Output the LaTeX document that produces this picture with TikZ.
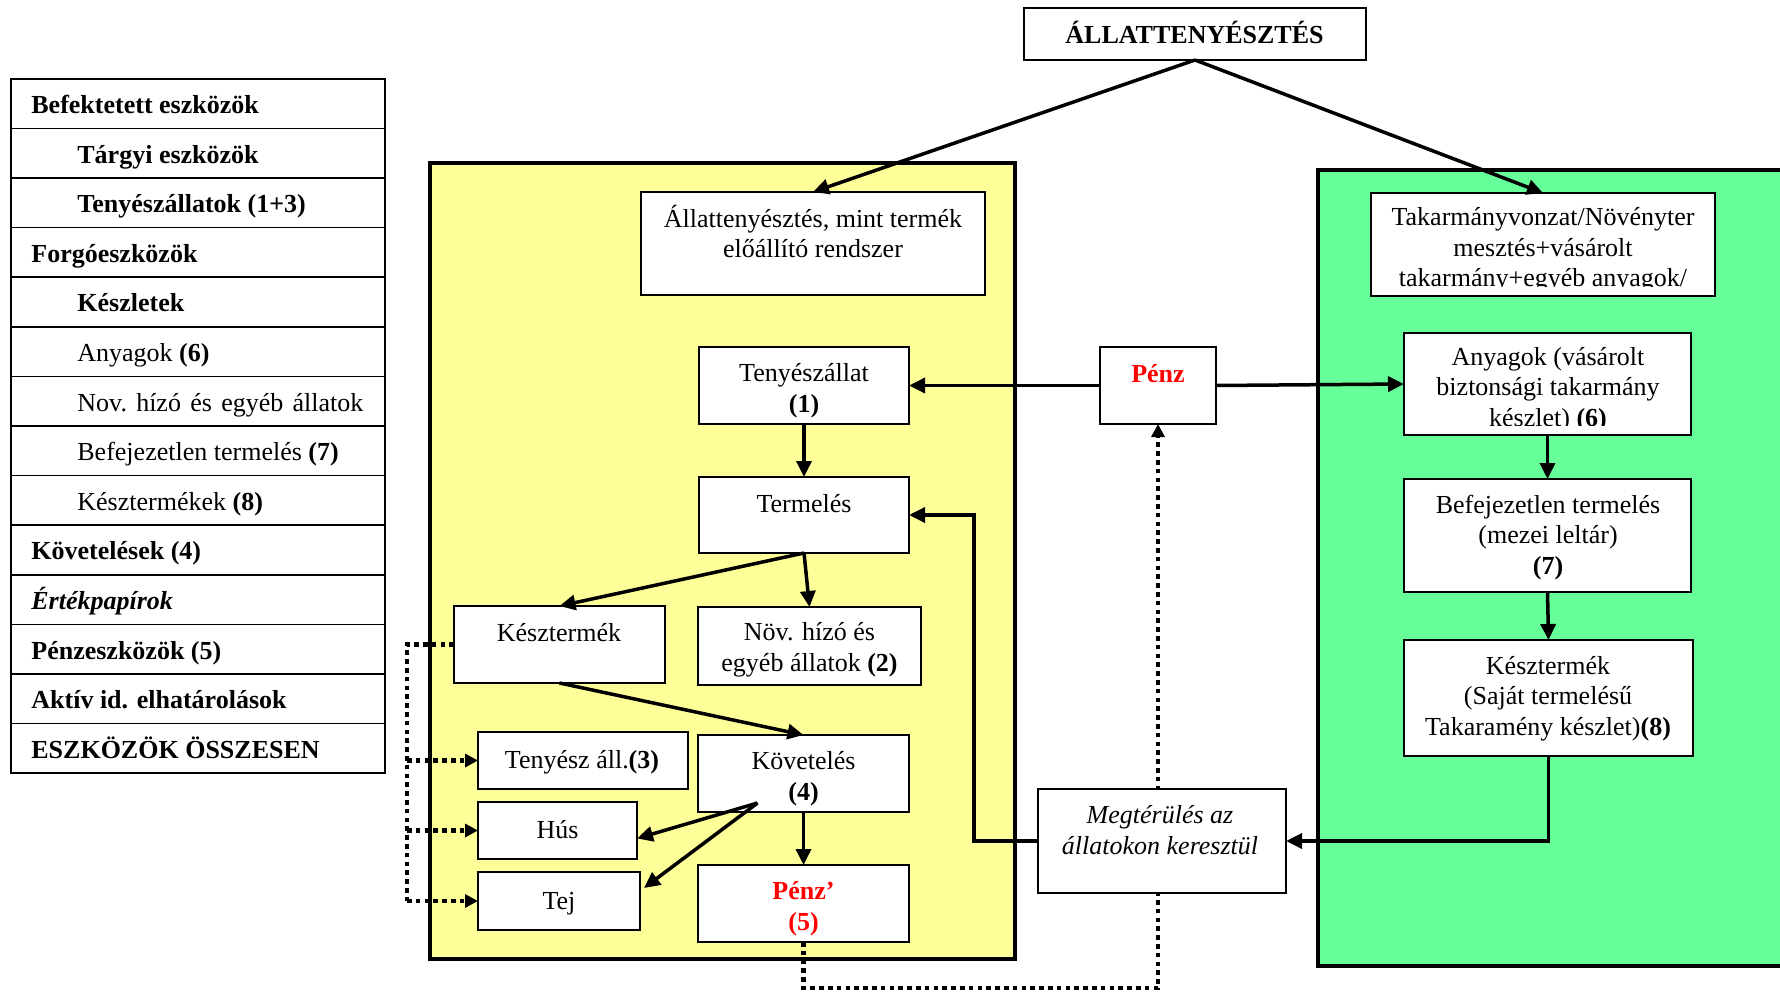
\documentclass[tikz,border=0pt]{standalone}
\usepackage{fontspec}
\setmainfont{Liberation Serif}
\usetikzlibrary{arrows.meta,calc,fit}
\pgfdeclarelayer{bg}\pgfdeclarelayer{mid}
\pgfsetlayers{bg,mid,main}
\definecolor{yellowc}{RGB}{255,255,153}
\definecolor{greenc}{RGB}{102,255,153}
\definecolor{redc}{RGB}{255,0,0}
\newcommand\trow[3]{%
  \node[rowbox, anchor=north west] (r#1) at (10,{78+49.6*#1}) {};
  \node[rowtxt] (rt#1) at ({#2},{113.5+49.6*#1}) {#3};
}
\tikzset{
  box/.style={draw, fill=white, line width=0.75pt, inner sep=0pt, outer sep=0pt},
  tbox/.style={box, line width=0.9pt},
  txt/.style={inner sep=0pt, align=center, anchor=base, font=\fontsize{13}{15.2}\selectfont},
  rowbox/.style={draw, fill=white, line width=0.8pt, minimum width=187pt, minimum height=24.8pt, inner sep=0pt},
  rowtxt/.style={anchor=base west, inner sep=0pt, font=\fontsize{13}{15.2}\selectfont},
  container/.style={draw, line width=2.2pt},
  arr/.style={line width=1.75pt, -{Triangle[length=8pt,width=7.5pt]}},
  dotl/.style={line width=2.1pt, dash pattern=on 2.3pt off 2.1pt},
  dotarr/.style={dotl, -{Triangle[length=6.5pt,width=6.5pt]}}
}
\begin{document}
\begin{tikzpicture}[x=0.5pt,y=-0.5pt]
\useasboundingbox (0,0) rectangle (1780,994);
\begin{pgfonlayer}{bg}
  \begin{scope}
    \clip (0,0) rectangle (1780,994);
    \draw[container, fill=yellowc] (430,163) rectangle (1015,959);
    \draw[container, fill=greenc] (1318,170) rectangle (1810,966);
  \end{scope}
\end{pgfonlayer}

% left table
\trow{0}{31}{\textbf{Befektetett eszközök}}
\trow{1}{77}{\textbf{Tárgyi eszközök}}
\trow{2}{77}{\textbf{Tenyészállatok (1+3)}}
\trow{3}{31}{\textbf{Forgóeszközök}}
\trow{4}{77}{\textbf{Készletek}}
\trow{5}{77}{Anyagok \textbf{(6)}}
\trow{6}{77}{\makebox[143pt][s]{Nov.\ hízó és egyéb állatok}}
\trow{7}{77}{Befejezetlen termelés \textbf{(7)}}
\trow{8}{77}{Késztermékek \textbf{(8)}}
\trow{9}{31}{\textbf{Követelések (4)}}
\trow{10}{31}{\textbf{\textit{Értékpapírok}}}
\trow{11}{31}{\textbf{Pénzeszközök (5)}}
\trow{12}{31}{\textbf{Aktív id. elhatárolások}}
\trow{13}{31}{\textbf{ESZKÖZÖK ÖSSZESEN}}

% title
\node[tbox, fit={(1024,8) (1366,60)}] (title) {};
\node[txt, font=\fontsize{13}{15.2}\selectfont\bfseries] (title-t) at (1194.5,44) {ÁLLATTENYÉSZTÉS};

% yellow system (text anchors = baseline of last line)
\node[box, fit={(641,192) (985,295)}] (allat) {};
\node[txt] (allat-t) at (813,257.5) {Állattenyésztés, mint termék\\előállító rendszer};
\node[box, fit={(699,347) (909,424)}] (teny) {};
\node[txt] (teny-t) at (804,412) {Tenyészállat\\\textbf{(1)}};
\node[box, fit={(699,477) (909,553)}] (term) {};
\node[txt] (term-t) at (804,512) {Termelés};
\node[box, fit={(454,606) (665,683)}] (kt) {};
\node[txt] (kt-t) at (559,641) {Késztermék};
\node[box, fit={(698,607) (921,685)}] (nov) {};
\node[txt] (nov-t) at (809.5,671) {Növ. hízó és\\egyéb állatok \textbf{(2)}};
\node[box, fit={(478,732) (688,789)}] (ta) {};
\node[txt] (ta-t) at (582,768) {Tenyész áll.\textbf{(3)}};
\node[box, fit={(698,735) (909,812)}] (kov) {};
\node[txt] (kov-t) at (803.5,800) {Követelés\\\textbf{(4)}};
\node[box, fit={(478,802) (637,859)}] (hus) {};
\node[txt] (hus-t) at (557.5,838.5) {Hús};
\node[box, fit={(478,872) (640,930)}] (tej) {};
\node[txt] (tej-t) at (559,909) {Tej};
\node[box, fit={(698,865) (909,942)}] (pz5) {};
\node[txt, text=redc, font=\fontsize{13}{15.2}\selectfont\bfseries] (pz5-t) at (803.5,930) {Pénz’\\(5)};

% middle
\node[box, fit={(1100,347) (1216,424)}] (penz) {};
\node[txt, text=redc, font=\fontsize{13}{15.2}\selectfont\bfseries] (penz-t) at (1158,382) {Pénz};
\node[box, fit={(1038,789) (1286,893)}] (meg) {};
\node[txt, font=\fontsize{13}{15.2}\selectfont\itshape] (meg-t) at (1160,854) {Megtérülés az\\állatokon keresztül};

% green system
\node[box, fit={(1371,193) (1715,296)}] (tak) {};
\begin{scope}
  \clip (1371,193) rectangle (1715,287);
  \node[txt] (tak-t) at (1543,286.5) {Takarmányvonzat/Növényter\\mesztés+vásárolt\\takarmány+egyéb anyagok/};
\end{scope}
\node[box, fit={(1404,333) (1691,435)}] (any) {};
\begin{scope}
  \clip (1404,333) rectangle (1691,425);
  \node[txt] (any-t) at (1548,426) {Anyagok (vásárolt\\biztonsági takarmány\\készlet) \textbf{(6)}};
\end{scope}
\node[box, fit={(1404,479) (1691,592)}] (bef) {};
\node[txt] (bef-t) at (1548,574) {Befejezetlen termelés\\(mezei leltár)\\\textbf{(7)}};
\node[box, fit={(1404,640) (1693,756)}] (gk) {};
\node[txt] (gk-t) at (1548,735) {Késztermék\\(Saját termelésű\\Takaramény készlet)\textbf{(8)}};

% solid connectors
\draw[arr] (title.south) -- (allat.north);
\draw[arr] (title.south) -- (tak.north);
\draw[arr] (penz.west) -- (teny.east);
\draw[arr] (penz.east) -- (any.west);
\draw[arr] (teny.south) -- (term.north);
\draw[arr] (term.south) -- (kt.north);
\draw[arr] (term.south) -- (nov.north);
\draw[arr] (kt.south) -- (kov.north);
\coordinate (kvp) at ($(kov.south)+(-46,-9)$);
\draw[arr] (kvp) -- ($(hus.east)+(0,8)$);
\draw[arr] (kvp) -- ($(tej.north east)+(4,16)$);
\draw[arr] (kov.south) -- (pz5.north);
\draw[arr] (meg.west) -- ++(-64,0) |- (term.east);
\draw[arr] (gk.south) |- (meg.east);
\draw[arr] (any.south) -- (bef.north);
\draw[arr] (bef.south) -- (gk.north);

% dotted connectors (behind boxes)
\begin{pgfonlayer}{mid}
  \draw[dotarr] (pz5.south) -- ++(0,46) -| (penz.south);
  \draw[dotl] (kt.west) -- ++(-47,0) coordinate (dl) -- (dl |- tej.west);
  \draw[dotarr] (dl |- ta.west) -- (ta.west);
  \draw[dotarr] (dl |- hus.west) -- (hus.west);
  \draw[dotarr] (dl |- tej.west) -- (tej.west);
\end{pgfonlayer}
\end{tikzpicture}
\end{document}
